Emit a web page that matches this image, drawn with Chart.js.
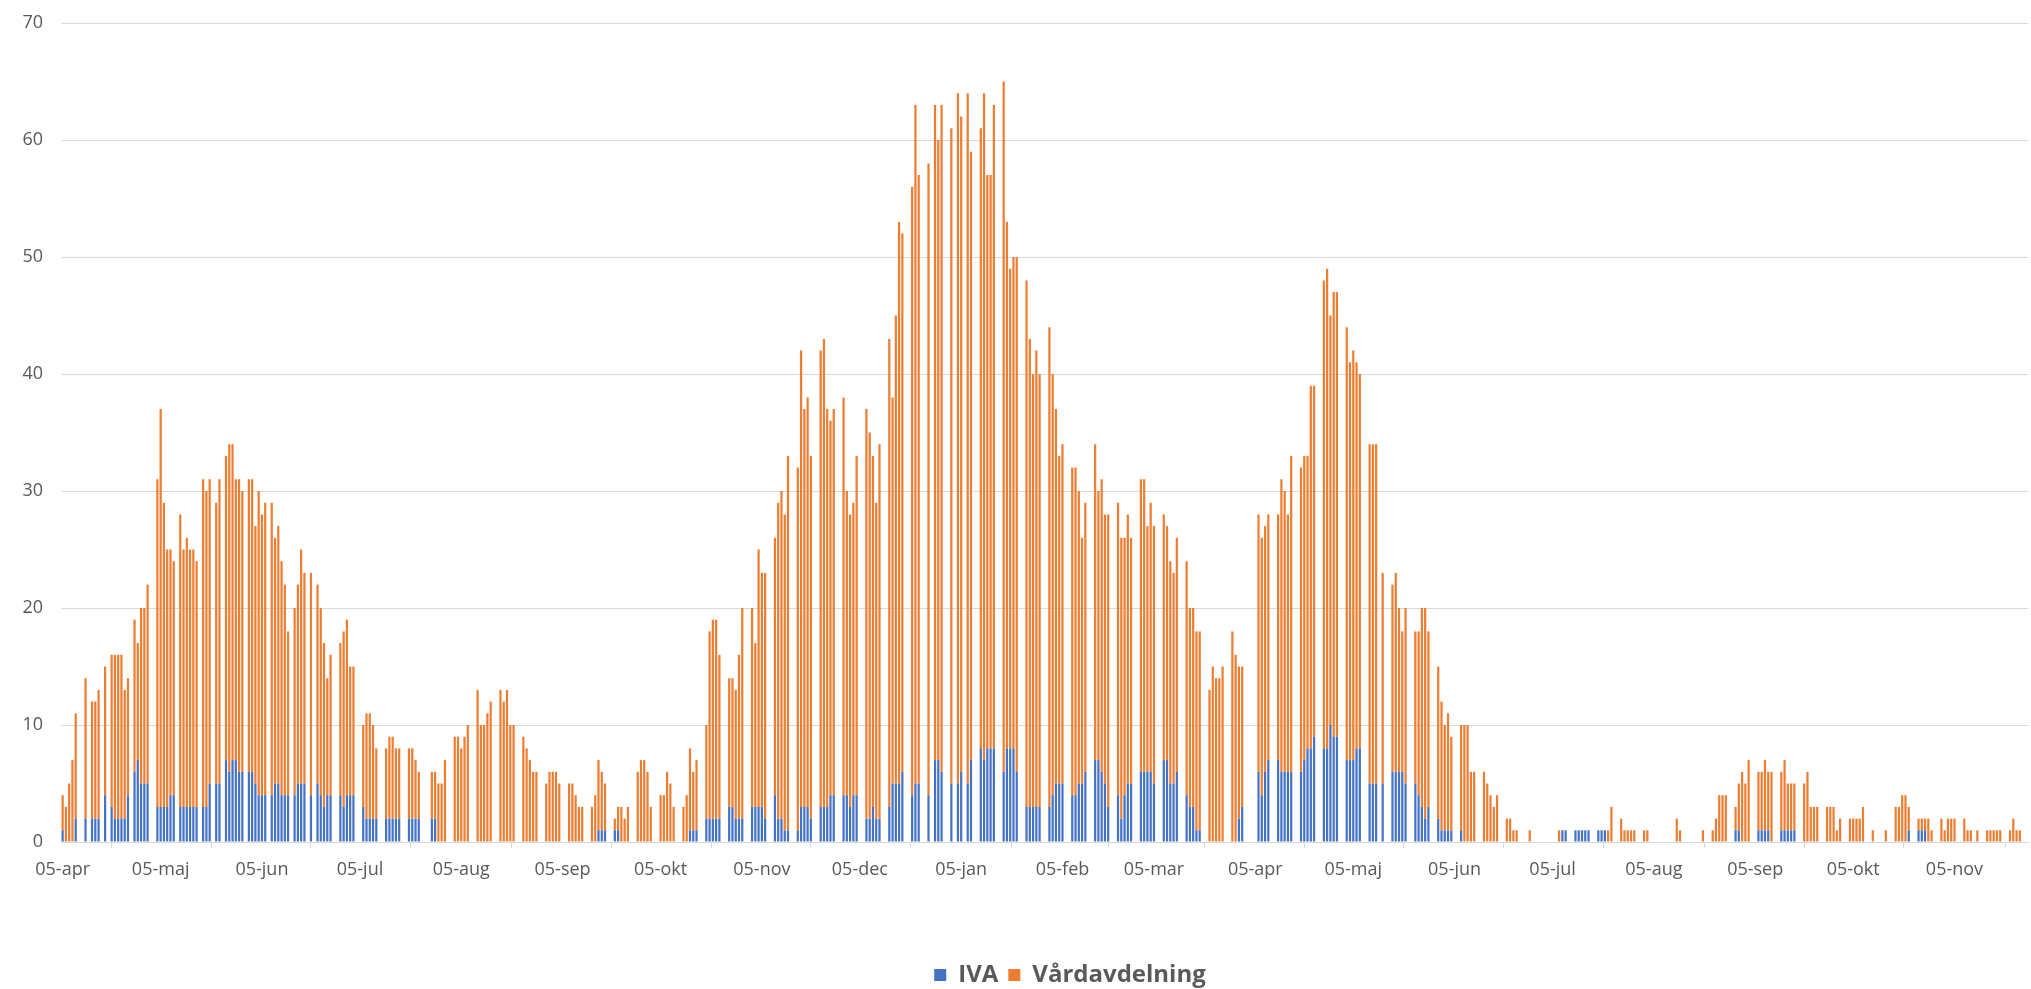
<!DOCTYPE html>
<html>
<head>
<meta charset="utf-8">
<script src="https://cdn.jsdelivr.net/npm/chart.js"></script>
<style>
  html, body { margin: 0; padding: 0; background: #fff; }
  canvas { display: block; }
</style>
</head>
<body>
<canvas id="chart" width="2031" height="989"></canvas>
<script>
// Dagliga värden från 2020-04-05, en rad per vecka (sön..lör)
const startYear = 2020, startMonth = 3, startDay = 5;
const monthNames = ['jan', 'feb', 'mar', 'apr', 'maj', 'jun', 'jul', 'aug', 'sep', 'okt', 'nov', 'dec'];

const iva = [
  1,0,0,0,2,0,0,  2,0,2,2,2,0,4,  0,3,2,2,2,2,4,  0,6,7,5,5,5,0,
  0,3,3,3,3,4,4,  0,3,3,3,3,3,3,  0,3,3,5,0,5,5,  0,7,6,7,7,6,6,
  0,6,6,5,4,4,4,  0,4,5,5,4,4,4,  0,4,5,5,5,0,4,  0,5,4,3,4,4,0,
  0,4,3,4,4,4,0,  0,3,2,2,2,2,0,  0,2,2,2,2,2,0,  0,2,2,2,2,0,0,
  0,2,2,0,0,0,0,  0,0,0,0,0,0,0,  0,0,0,0,0,0,0,  0,0,0,0,0,0,0,
  0,0,0,0,0,0,0,  0,0,0,0,0,0,0,  0,0,0,0,0,0,0,  0,0,0,1,1,1,0,
  0,1,1,0,0,0,0,  0,0,0,0,0,0,0,  0,0,0,0,0,0,0,  0,0,0,1,1,1,0,
  0,2,2,2,2,2,0,  0,3,3,2,2,2,0,  0,3,3,3,3,2,0,  0,4,2,2,1,1,0,
  0,1,3,3,3,2,0,  0,3,3,3,4,4,0,  0,4,4,3,4,4,0,  0,2,2,3,2,2,0,
  0,3,5,5,5,6,0,  0,4,5,5,0,0,4,  0,7,7,6,0,0,5,  0,5,6,0,5,7,0,
  0,8,7,8,8,8,0,  0,6,8,8,8,6,0,  0,3,3,3,3,3,0,  0,3,4,5,5,5,0,
  0,4,4,5,5,6,0,  0,7,7,6,5,3,0,  0,4,2,4,5,5,0,  0,6,6,6,6,5,0,
  0,7,7,5,5,6,0,  0,4,3,3,1,1,0,  0,0,0,0,0,0,0,  0,0,0,2,3,0,0,
  0,0,6,4,6,7,0,  0,7,6,6,6,6,0,  0,6,7,8,8,9,0,  0,8,8,10,9,9,0,
  0,7,7,7,8,8,0,  0,5,5,5,0,5,0,  0,6,6,6,6,5,0,  0,5,4,3,2,3,0,
  0,2,1,1,1,1,0,  0,1,0,0,0,0,0,  0,0,0,0,0,0,0,  0,0,0,0,0,0,0,
  0,0,0,0,0,0,0,  0,0,0,0,1,1,0,  0,1,1,1,1,1,0,  0,1,1,1,0,0,0,
  0,0,0,0,0,0,0,  0,0,0,0,0,0,0,  0,0,0,0,0,0,0,  0,0,0,0,0,0,0,
  0,0,0,0,0,0,0,  0,1,1,0,0,0,0,  0,1,1,1,1,0,0,  0,1,1,1,1,1,0,
  0,0,0,0,0,0,0,  0,0,0,0,0,0,0,  0,0,0,0,0,0,0,  0,0,0,0,0,0,0,
  0,0,0,0,0,1,0,  0,1,1,1,0,0,0,  0,0,0,0,0,0,0,  0,0,0,0,0,0,0,
  0,0,0,0,0,0,0,  0,0,0,0,0,0,0
];

const vard = [
  3,3,5,7,9,0,0,  12,0,10,10,11,0,11,  0,13,14,14,14,11,10,  0,13,10,15,15,17,0,
  0,28,34,26,22,21,20,  0,25,22,23,22,22,21,  0,28,27,26,0,24,26,  0,26,28,27,24,25,24,
  0,25,25,22,26,24,25,  0,25,21,22,20,18,14,  0,16,17,20,18,0,19,  0,17,16,14,10,12,0,
  0,13,15,15,11,11,0,  0,7,9,9,8,6,0,  0,6,7,7,6,6,0,  0,6,6,5,4,0,0,
  0,4,4,5,5,7,0,  0,9,9,8,9,10,0,  0,13,10,10,11,12,0,  0,13,12,13,10,10,0,
  0,9,8,7,6,6,0,  0,5,6,6,6,5,0,  0,5,5,4,3,3,0,  0,3,4,6,5,4,0,
  0,1,2,3,2,3,0,  0,6,7,7,6,3,0,  0,4,4,6,5,3,0,  0,3,4,7,5,6,0,
  0,8,16,17,17,14,0,  0,11,11,11,14,18,0,  0,17,14,22,20,21,0,  0,22,27,28,27,32,0,
  0,31,39,34,35,31,0,  0,39,40,34,32,33,0,  0,34,26,25,25,29,0,  0,35,33,30,27,32,0,
  0,40,33,40,48,46,0,  0,52,58,52,0,0,54,  0,56,53,57,0,0,56,  0,59,56,0,59,52,0,
  0,53,57,49,49,55,0,  0,59,45,41,42,44,0,  0,45,40,37,39,37,0,  0,41,36,32,28,29,0,
  0,28,28,25,21,23,0,  0,27,23,25,23,25,0,  0,25,24,22,23,21,0,  0,25,25,21,23,22,0,
  0,21,20,19,18,20,0,  0,20,17,17,17,17,0,  0,13,15,14,14,15,0,  0,18,16,13,12,0,0,
  0,0,22,22,21,21,0,  0,21,25,24,22,27,0,  0,26,26,25,31,30,0,  0,40,41,35,38,38,0,
  0,37,34,35,33,32,0,  0,29,29,29,0,18,0,  0,16,17,14,12,15,0,  0,13,14,17,18,15,0,
  0,13,11,9,10,8,0,  0,9,10,10,6,6,0,  0,6,5,4,3,4,0,  0,2,2,1,1,0,0,
  0,1,0,0,0,0,0,  0,0,0,1,0,0,0,  0,0,0,0,0,0,0,  0,0,0,0,1,3,0,
  0,2,1,1,1,1,0,  0,1,1,0,0,0,0,  0,0,0,0,2,1,0,  0,0,0,0,0,1,0,
  0,1,2,4,4,4,0,  0,2,4,6,5,7,0,  0,5,5,6,5,6,0,  0,5,6,4,4,4,0,
  0,5,6,3,3,3,0,  0,3,3,3,1,2,0,  0,2,2,2,2,3,0,  0,1,0,0,0,1,0,
  0,3,3,4,4,2,0,  0,1,1,1,2,1,0,  0,2,1,2,2,2,0,  0,2,1,1,0,1,0,
  0,1,1,1,1,1,0,  0,1,2,1,1,0,0
];

const yTicks = [0, 10, 20, 30, 40, 50, 60, 70];

// datumetiketter, t.ex. "05-apr"
const days = [];
for (let i = 0; i < iva.length; i++) {
  const d = new Date(startYear, startMonth, startDay + i);
  days.push(String(d.getDate()).padStart(2, '0') + '-' + monthNames[d.getMonth()]);
}

// flytta legenden så att den hamnar som i originalet
const legendShift = {
  id: 'legendShift',
  afterLayout(chart) {
    const lg = chart.legend;
    lg.left += 56; lg.right += 56;
    lg.top += 8; lg.bottom += 8;
  }
};

const gray = '#595959';
const gridColor = '#d9d9d9';

new Chart(document.getElementById('chart'), {
  type: 'bar',
  data: {
    labels: days,
    datasets: [
      { label: 'IVA', data: iva, backgroundColor: '#4472C4', borderWidth: 0,
        barPercentage: 0.68, categoryPercentage: 1 },
      { label: 'Vårdavdelning', data: vard, backgroundColor: '#ED7D31', borderWidth: 0,
        barPercentage: 0.68, categoryPercentage: 1 }
    ]
  },
  options: {
    responsive: false,
    animation: false,
    devicePixelRatio: 1,
    layout: { padding: { left: 0, right: 3, top: 23, bottom: 0 } },
    plugins: {
      tooltip: { enabled: false },
      legend: {
        position: 'bottom',
        labels: {
          boxWidth: 12, boxHeight: 12, padding: 10, color: gray,
          font: { family: '"Open Sans", sans-serif', size: 24, weight: 'bold' }
        }
      }
    },
    scales: {
      x: {
        stacked: true,
        offset: true,
        grid: { drawOnChartArea: false, drawTicks: true, tickLength: 6, color: gridColor, offset: true },
        border: { display: true, color: gridColor, width: 1 },
        ticks: {
          autoSkip: false, maxRotation: 0, minRotation: 0, padding: 11, color: gray,
          font: { family: '"Open Sans", sans-serif', size: 18 },
          callback: function (value) {
            const l = this.getLabelForValue(value);
            return l.startsWith('05-') ? l : null;
          }
        },
        afterFit(scale) { scale.height = 103; }
      },
      y: {
        stacked: true,
        min: yTicks[0],
        max: yTicks[yTicks.length - 1],
        grid: { color: gridColor, lineWidth: 1, drawTicks: false },
        border: { display: false },
        ticks: {
          stepSize: 10, padding: 18, color: gray,
          font: { family: '"Open Sans", sans-serif', size: 18 }
        },
        afterFit(scale) {
          scale.width = 61;
          scale.paddingTop = 0;
          scale.paddingBottom = 0;
        }
      }
    }
  },
  plugins: [legendShift]
});
</script>
</body>
</html>
